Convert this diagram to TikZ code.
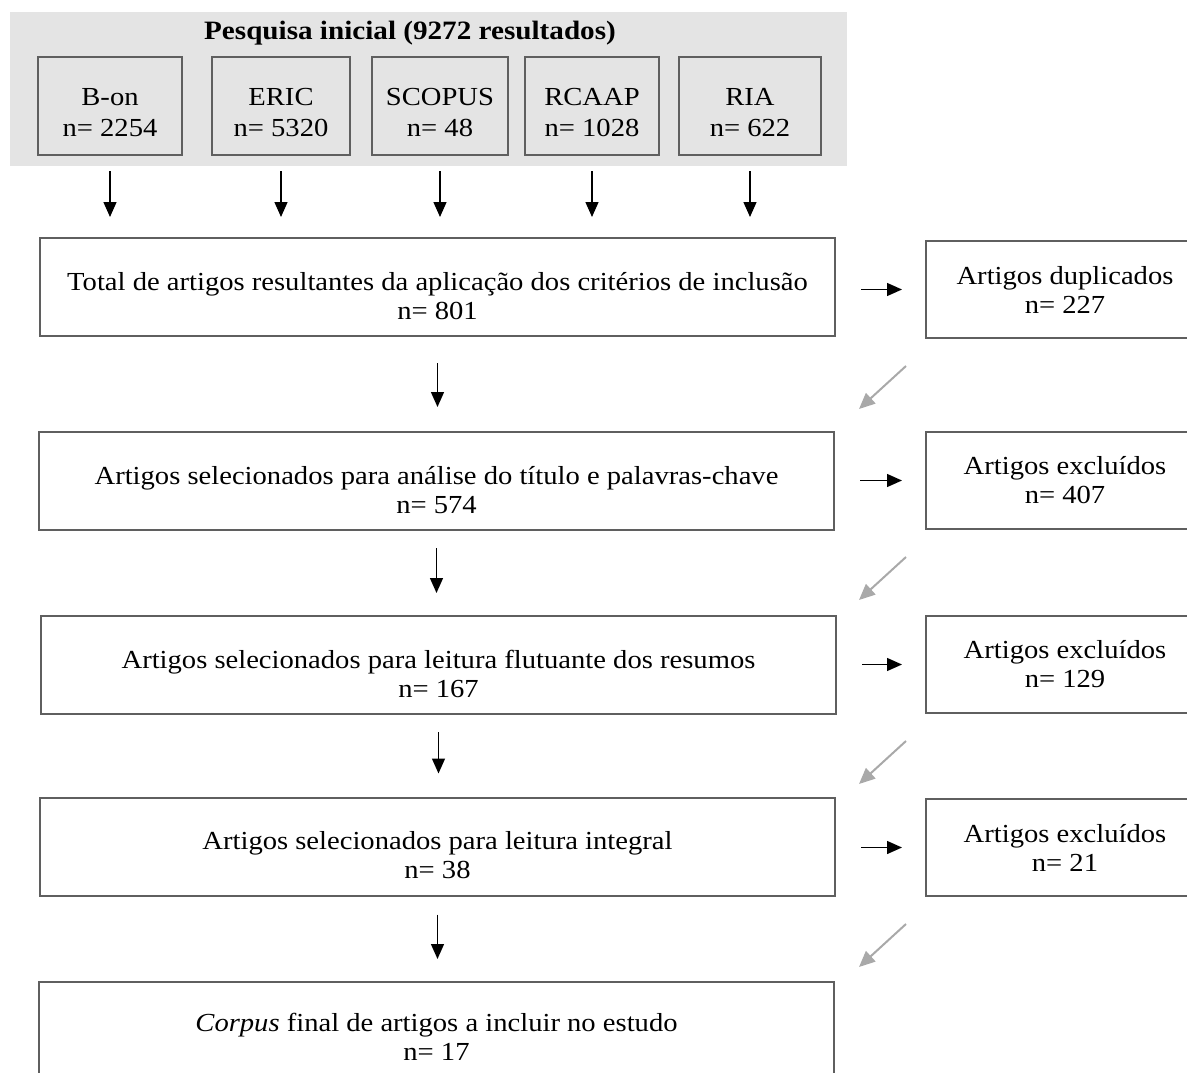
\documentclass[tikz,border=0pt]{standalone}
\usepackage{fontspec}
\setmainfont{Liberation Serif}[FakeStretch=1.1]
\usetikzlibrary{arrows.meta,calc}

\definecolor{boxline}{HTML}{5F5F5F}
\definecolor{panelgrey}{HTML}{E4E4E4}
\definecolor{skipgrey}{HTML}{A9A9A9}

% taller first line, so the two lines sit a little low in the box
\newcommand{\liftline}[1][36pt]{\rule{0pt}{#1}}

\tikzset{
    srcbox/.style={draw=boxline, line width=2pt, minimum height=98pt, align=center, inner sep=0pt},
    mainbox/.style={draw=boxline, line width=2pt, minimum width=795pt, minimum height=98pt, align=center, inner sep=0pt},
    sidebox/.style={draw=boxline, line width=2pt, minimum width=278pt, minimum height=97pt, align=center, inner sep=0pt},
    flow/.style={-{Triangle[length=15pt,width=13pt]}, line width=1.4pt, black},
    skip/.style={-{Triangle[length=16pt,width=14pt]}, line width=2pt, skipgrey},
}

\begin{document}
\begin{tikzpicture}[x=1pt, y=-1pt, font=\fontsize{26}{29}\selectfont]
    \useasboundingbox (0,0) rectangle (1187,1073);
    \clip (0,0) rectangle (1187,1073);

    % initial search
    \fill[panelgrey] (10,12) rectangle (847,166);
    \node[font=\fontsize{26.5}{29}\selectfont\bfseries] (title) at (410,33) {Pesquisa inicial (9272 resultados)};
    \node[srcbox, minimum width=144pt] (bon)    at (110,106) {\liftline[30pt]B-on\\[2pt]n= 2254};
    \node[srcbox, minimum width=138pt] (eric)   at (281,106) {\liftline[30pt]ERIC\\[2pt]n= 5320};
    \node[srcbox, minimum width=136pt] (scopus) at (440,106) {\liftline[30pt]SCOPUS\\[2pt]n= 48};
    \node[srcbox, minimum width=134pt] (rcaap)  at (592,106) {\liftline[30pt]RCAAP\\[2pt]n= 1028};
    \node[srcbox, minimum width=142pt] (ria)    at (750,106) {\liftline[30pt]RIA\\[2pt]n= 622};

    % main flow
    \node[mainbox] (total) at (437.5,287) {\liftline Total de artigos resultantes da aplicação dos critérios de inclusão\\n= 801};
    \node[mainbox] (titulo) at (436.5,481) {\liftline Artigos selecionados para análise do título e palavras-chave\\n= 574};
    \node[mainbox] (resumos) at (438.5,665) {\liftline Artigos selecionados para leitura flutuante dos resumos\\n= 167};
    \node[mainbox] (integral) at (437.5,846.5) {\liftline Artigos selecionados para leitura integral\\n= 38};
    \node[mainbox, minimum height=110pt] (corpus) at (436.5,1037) {\emph{Corpus} final de artigos a incluir no estudo\\n= 17};

    % excluded
    \node[sidebox] (dup)   at (1065,289.5) {Artigos duplicados\\n= 227};
    \node[sidebox] (excA)  at (1065,480.5) {Artigos excluídos\\n= 407};
    \node[sidebox] (excB)  at (1065,664.5) {Artigos excluídos\\n= 129};
    \node[sidebox] (excC)  at (1065,847.5) {Artigos excluídos\\n= 21};

    \foreach \src in {bon,eric,scopus,rcaap,ria}
        \draw[flow, shorten <=15pt, shorten >=20pt] (\src.south) -- (\src.south |- total.north);

    \draw[flow, shorten <=26pt, shorten >=24pt] (total.south) -- (total.south |- titulo.north);
    \draw[flow, shorten <=17pt, shorten >=22pt] (titulo.south) -- (titulo.south |- resumos.north);
    \draw[flow, shorten <=17pt, shorten >=23pt] (resumos.south) -- (resumos.south |- integral.north);
    \draw[flow, shorten <=18pt, shorten >=22pt] (integral.south) -- (integral.south |- corpus.north);

    \draw[flow, shorten <=25pt, shorten >=23pt] (total.east |- dup.west) -- (dup.west);
    \draw[flow, shorten <=25pt, shorten >=23pt] (titulo.east |- excA.west) -- (excA.west);
    \draw[flow, shorten <=25pt, shorten >=23pt] (resumos.east |- excB.west) -- (excB.west);
    \draw[flow, shorten <=25pt, shorten >=23pt] (integral.east |- excC.west) -- (excC.west);

    \foreach \side in {dup,excA,excB,excC}
        \draw[skip] ([shift={(-19,27)}]\side.south west) -- ([shift={(-66,70)}]\side.south west);
\end{tikzpicture}
\end{document}
